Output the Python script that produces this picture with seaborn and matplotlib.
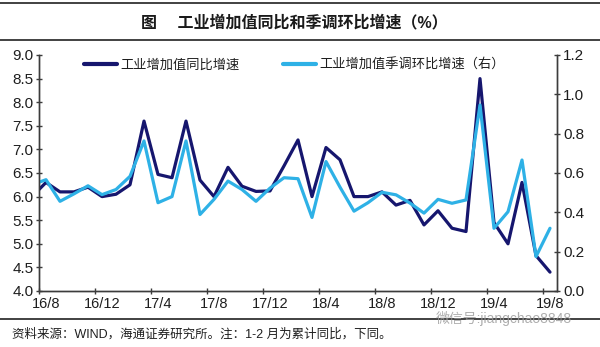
import numpy as np
import pandas as pd
import matplotlib
matplotlib.use("Agg")
import matplotlib.pyplot as plt
from matplotlib.lines import Line2D
import seaborn as sns

sns.set_theme(style="white")
plt.rcParams["font.family"] = ["Liberation Sans", "Noto Sans CJK SC", "DejaVu Sans"]
plt.rcParams["axes.unicode_minus"] = False

# Monthly series, 2016/7 - 2019/8
months = ["16/7", "16/8", "16/9", "16/10", "16/11", "16/12",
          "17/1", "17/2", "17/3", "17/4", "17/5", "17/6",
          "17/7", "17/8", "17/9", "17/10", "17/11", "17/12",
          "18/1", "18/2", "18/3", "18/4", "18/5", "18/6",
          "18/7", "18/8", "18/9", "18/10", "18/11", "18/12",
          "19/1", "19/2", "19/3", "19/4", "19/5", "19/6",
          "19/7", "19/8"]
# Industrial value added, y/y (%)  -- left axis
yoy = [6.0, 6.3, 6.1, 6.1, 6.2, 6.0,
       6.05, 6.25, 7.6, 6.47, 6.4, 7.6,
       6.35, 6.0, 6.62, 6.22, 6.11, 6.12,
       6.65, 7.2, 6.0, 7.04, 6.78, 6.0,
       6.0, 6.1, 5.82, 5.92, 5.4, 5.7,
       5.33, 5.26, 8.5, 5.45, 5.0, 6.3,
       4.75, 4.4]
# Industrial value added, seasonally adjusted m/m (%)  -- right axis
mom = [0.54, 0.566, 0.456, 0.494, 0.535, 0.490,
       0.516, 0.583, 0.763, 0.449, 0.480, 0.763,
       0.389, 0.466, 0.559, 0.516, 0.456, 0.523,
       0.576, 0.571, 0.374, 0.658, 0.528, 0.406,
       0.449, 0.502, 0.489, 0.447, 0.396, 0.466,
       0.446, 0.463, 0.946, 0.319, 0.403, 0.666,
       0.175, 0.319]

tick_labels = ["16/8", "16/12", "17/4", "17/8", "17/12",
               "18/4", "18/8", "18/12", "19/4", "19/8"]

name_yoy = "工业增加值同比增速"
name_mom = "工业增加值季调环比增速（右）"
title = "图　 工业增加值同比和季调环比增速（%）"
source = "资料来源：WIND，海通证券研究所。注：1-2 月为累计同比，下同。"
mark = "微信号:jiangchao8848"

dark = "#16166e"
light = "#2eb1e6"
axis_c = "#3c3c3c"
text_c = "#1e1e1e"

df = pd.DataFrame({"month": months, "yoy": yoy, "mom": mom})
df["pos"] = np.arange(len(df)) - 1  # 16/8 sits at position 0

fig = plt.figure(figsize=(6.0, 3.47), dpi=100)
ax = fig.add_axes([39 / 600, 1 - 291 / 347, (557 - 39) / 600, (291 - 55) / 347])
ax2 = ax.twinx()

sns.lineplot(data=df, x="pos", y="yoy", ax=ax, color=dark, lw=2.3,
             solid_joinstyle="round", solid_capstyle="round", legend=False)
sns.lineplot(data=df, x="pos", y="mom", ax=ax2, color=light, lw=2.3,
             solid_joinstyle="round", solid_capstyle="round", legend=False)

ax.set_xlim(-0.5, 36.5)
ax.set_ylim(4.0, 9.0)
ax2.set_ylim(0.0, 1.2)
ax.set_yticks(np.arange(4.0, 9.01, 0.5))
ax.set_yticklabels([f"{v:.1f}" for v in np.arange(4.0, 9.01, 0.5)])
ax2.set_yticks(np.arange(0.0, 1.21, 0.2))
ax2.set_yticklabels([f"{v:.1f}" for v in np.arange(0.0, 1.21, 0.2)])

# tick marks at category boundaries, labels at category centres
ax.set_xticks(np.arange(-0.5, 36, 4))
ax.set_xticklabels([])
label_pos = [months.index(m) - 1 for m in tick_labels]
ax.set_xticks(label_pos, minor=True)
ax.set_xticklabels(tick_labels, minor=True)

for a in (ax, ax2):
    a.set_xlabel("")
    a.set_ylabel("")
    a.grid(False)
    for side in ("left", "right", "bottom", "top"):
        a.spines[side].set_color(axis_c)
        a.spines[side].set_linewidth(1.0)
    a.spines["top"].set_visible(False)

ax.tick_params(axis="x", which="major", direction="inout", length=5, width=1,
               color=axis_c, bottom=True)
ax.tick_params(axis="x", which="minor", length=0, labelsize=10.5,
               labelcolor=text_c, pad=4)
ax.tick_params(axis="y", direction="inout", length=5, width=1, color=axis_c,
               left=True, labelsize=11, labelcolor=text_c, pad=1.5)
ax2.tick_params(axis="y", direction="inout", length=5, width=1, color=axis_c,
                right=True, labelsize=11, labelcolor=text_c, pad=2)

handles = [Line2D([], [], color=dark, lw=3),
           Line2D([], [], color=light, lw=3)]
fig.legend(handles, [name_yoy, name_mom], loc="center left",
           bbox_to_anchor=(72 / 600, 1 - 65 / 347), ncol=2, frameon=False,
           fontsize=9.5, handlelength=2.5, handletextpad=0.25,
           columnspacing=3.3, labelcolor=text_c)

# header and footer rules
for yy in (3, 40, 319):
    fig.add_artist(Line2D([0, 1], [1 - yy / 347, 1 - yy / 347],
                          transform=fig.transFigure, color="#333333", lw=1.3))

fig.text(294 / 600, 1 - 22 / 347, title, ha="center", va="center",
         fontsize=11.5, fontweight="bold", color="#1a1a1a")
fig.text(12 / 600, 1 - 334 / 347, source, ha="left", va="center",
         fontsize=9, color=text_c)
fig.text(436 / 600, 1 - 318 / 347, mark, ha="left", va="center",
         fontsize=10, color="#9a9a9a", alpha=0.8)

fig.savefig("out.png", dpi=100)
